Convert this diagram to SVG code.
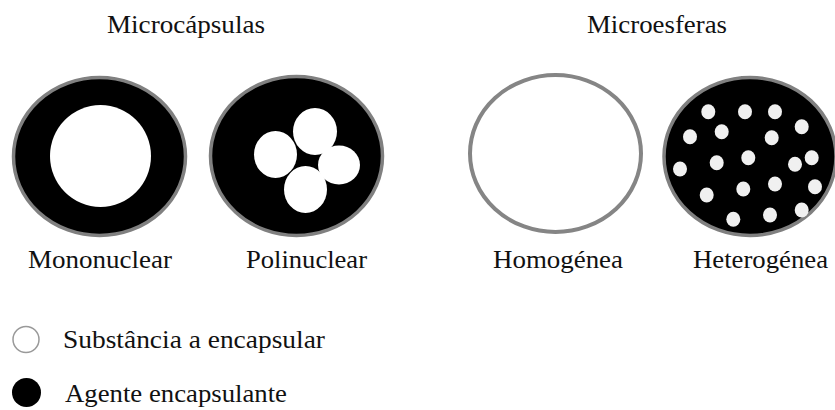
<svg xmlns="http://www.w3.org/2000/svg" width="835" height="410" viewBox="0 0 835 410">
<style>
.ring{fill:#000;stroke:#808080;stroke-width:3.5;}
.w{fill:#fff;}
.d{fill:#f0f0f0;}
</style>
<rect width="835" height="410" fill="#fff"/>
<g font-family="Liberation Serif, serif" font-size="26" fill="#111">
<text x="186" y="33" text-anchor="middle" textLength="158" lengthAdjust="spacingAndGlyphs">Microcápsulas</text>
<text x="657" y="33" text-anchor="middle" textLength="140" lengthAdjust="spacingAndGlyphs">Microesferas</text>
<g id="mononuclear">
<ellipse class="ring" cx="99.5" cy="156.5" rx="86" ry="79"/>
<ellipse class="w" cx="100.5" cy="156" rx="50.5" ry="51"/>
<text x="100" y="268" text-anchor="middle" textLength="144" lengthAdjust="spacingAndGlyphs">Mononuclear</text>
</g>
<g id="polinuclear">
<ellipse class="ring" cx="296.5" cy="156" rx="86" ry="79.5"/>
<ellipse class="w" cx="275.5" cy="154.5" rx="21.5" ry="23.5"/>
<ellipse class="w" cx="315" cy="131.5" rx="22" ry="23.5"/>
<ellipse class="w" cx="339" cy="165" rx="21" ry="19.5"/>
<ellipse class="w" cx="305.5" cy="189.5" rx="21.5" ry="23.5"/>
<text x="306.5" y="268" text-anchor="middle" textLength="121" lengthAdjust="spacingAndGlyphs">Polinuclear</text>
</g>
<g id="homogenea">
<ellipse cx="555.5" cy="153.5" rx="85.5" ry="78.5" fill="#fff" stroke="#858585" stroke-width="4"/>
<text x="558" y="268" text-anchor="middle" textLength="130" lengthAdjust="spacingAndGlyphs">Homogénea</text>
</g>
<g id="heterogenea">
<ellipse class="ring" cx="750" cy="156.5" rx="86" ry="79"/>
<ellipse class="d" cx="708.3" cy="111.7" rx="7" ry="7.5"/>
<ellipse class="d" cx="745" cy="111.7" rx="7" ry="7.5"/>
<ellipse class="d" cx="775" cy="111.7" rx="7" ry="7.5"/>
<ellipse class="d" cx="801.7" cy="126.7" rx="7" ry="7.5"/>
<ellipse class="d" cx="690" cy="136.7" rx="7" ry="7.5"/>
<ellipse class="d" cx="721.7" cy="131.7" rx="7" ry="7.5"/>
<ellipse class="d" cx="771.7" cy="137.7" rx="7" ry="7.5"/>
<ellipse class="d" cx="680" cy="169" rx="7" ry="7.5"/>
<ellipse class="d" cx="716.7" cy="162.7" rx="7" ry="7.5"/>
<ellipse class="d" cx="748.3" cy="157.7" rx="7" ry="7.5"/>
<ellipse class="d" cx="795" cy="164.3" rx="7" ry="7.5"/>
<ellipse class="d" cx="811.7" cy="157.7" rx="7" ry="7.5"/>
<ellipse class="d" cx="706.7" cy="195" rx="7" ry="7.5"/>
<ellipse class="d" cx="743.3" cy="189" rx="7" ry="7.5"/>
<ellipse class="d" cx="775" cy="184" rx="7" ry="7.5"/>
<ellipse class="d" cx="815" cy="186.7" rx="7" ry="7.5"/>
<ellipse class="d" cx="733.3" cy="219.3" rx="7" ry="7.5"/>
<ellipse class="d" cx="770" cy="215" rx="7" ry="7.5"/>
<ellipse class="d" cx="801.7" cy="210" rx="7" ry="7.5"/>
<text x="760.5" y="268" text-anchor="middle" textLength="135" lengthAdjust="spacingAndGlyphs">Heterogénea</text>
</g>
<g id="legend-substancia">
<circle cx="26" cy="339.5" r="13" fill="#fff" stroke="#999" stroke-width="1.5"/>
<text x="63" y="348" textLength="262" lengthAdjust="spacingAndGlyphs">Substância a encapsular</text>
</g>
<g id="legend-agente">
<circle cx="26.5" cy="392.5" r="14.5" fill="#000"/>
<text x="65" y="402" textLength="222" lengthAdjust="spacingAndGlyphs">Agente encapsulante</text>
</g>
</g>
<g id="connectors"/>
</svg>
